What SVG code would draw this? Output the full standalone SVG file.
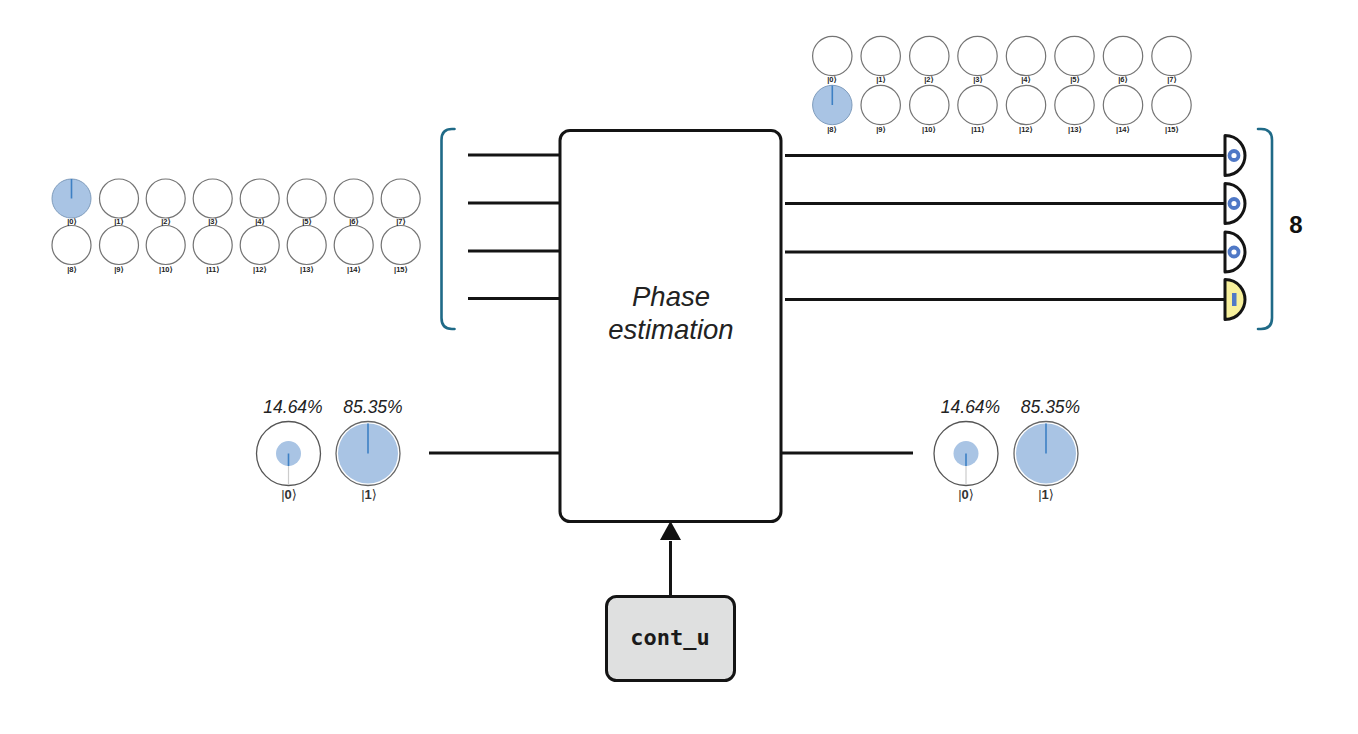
<svg xmlns="http://www.w3.org/2000/svg" width="1358" height="734" viewBox="0 0 1358 734">
<style>
.c{fill:#fff;stroke:#747474;stroke-width:1.2}
.s{fill:#a9c4e4;stroke:#7f9cbc;stroke-width:1}
.n{stroke:#3d80c4;stroke-width:1.6;fill:none}
.k{font:bold 7.5px "Liberation Sans","DejaVu Sans",sans-serif;fill:#222;text-anchor:middle}
.k2{font:13px "Liberation Sans","DejaVu Sans",sans-serif;fill:#333;text-anchor:middle}
.p{font:italic 17.500px "Liberation Sans",sans-serif;fill:#222;text-anchor:middle}
.w{stroke:#141414;stroke-width:3;fill:none;stroke-linecap:butt}
.b{stroke:#1f6a87;stroke-width:2.6;fill:none;stroke-linecap:round}
.m{stroke:#141414;stroke-width:3;stroke-linejoin:round}
.o{fill:none;stroke:#4f78c6;stroke-width:3.8}
</style>
<defs>
<path id="meter" d="M0,-20 C14,-20 20,-8 20,0 C20,8 14,20 0,20 Z"/>
</defs>
<g id="connectors">
<path class="w" d="M468,155H559M468,203H559M468,251H559M468,298.500H559"/>
<path class="w" d="M785,155.500H1225M785,203.500H1225M785,252H1225M785,299.500H1225"/>
<path class="w" d="M429,453H559M781,453H913"/>
<path class="w" d="M670.500,596V541"/>
<path d="M660,540 L670.500,521 L681,540 Z" fill="#111"/>
</g>
<g id="bracket-left"><path class="b" d="M454.500,129 H452 Q441.500,129 441.500,140 V318 Q441.500,329 452,329 H454.500"/></g>
<g id="bracket-right"><path class="b" d="M1258,129 H1261 Q1272,129 1272,140 V318 Q1272,329 1261,329 H1258"/></g>
<g id="phase-estimation">
<rect x="560" y="130.500" width="221" height="391" rx="10" fill="#fff" stroke="#141414" stroke-width="3"/>
<text x="671" y="306" font-family="Liberation Sans" font-style="italic" font-size="27.500" fill="#222" text-anchor="middle">Phase</text>
<text x="671" y="339" font-family="Liberation Sans" font-style="italic" font-size="27.500" fill="#222" text-anchor="middle">estimation</text>
</g>
<g id="cont-u">
<rect x="606.500" y="596.500" width="128" height="84" rx="10" fill="#dfe0e0" stroke="#141414" stroke-width="3"/>
<text x="670" y="645" font-family="DejaVu Sans Mono" font-weight="bold" font-size="22" fill="#1a1a1a" text-anchor="middle">cont_u</text>
</g>
<g id="meter-1"><use href="#meter" class="m" fill="#fff" x="1225" y="155.500"/><circle class="o" cx="1234" cy="155.500" r="4.500"/></g>
<g id="meter-2"><use href="#meter" class="m" fill="#fff" x="1225" y="203.500"/><circle class="o" cx="1234" cy="203.500" r="4.500"/></g>
<g id="meter-3"><use href="#meter" class="m" fill="#fff" x="1225" y="252"/><circle class="o" cx="1234" cy="252" r="4.500"/></g>
<g id="meter-4"><use href="#meter" class="m" fill="#f7f09c" x="1225" y="299.500"/><rect x="1232" y="293" width="4.500" height="13" fill="#4f78c6"/></g>
<g id="count"><text x="1296" y="233" font-family="Liberation Sans" font-weight="bold" font-size="24" fill="#111" text-anchor="middle">8</text></g>
<g id="register-in">
<circle class="s" cx="71.500" cy="198.500" r="19.500"/><path class="n" d="M71.500,179V198.500"/>
<circle class="c" cx="119" cy="198.500" r="19.500"/><circle class="c" cx="165.700" cy="198.500" r="19.500"/><circle class="c" cx="212.700" cy="198.500" r="19.500"/><circle class="c" cx="259.700" cy="198.500" r="19.500"/><circle class="c" cx="306.700" cy="198.500" r="19.500"/><circle class="c" cx="353.700" cy="198.500" r="19.500"/><circle class="c" cx="400.700" cy="198.500" r="19.500"/>
<circle class="c" cx="71.500" cy="245" r="19.500"/><circle class="c" cx="119" cy="245" r="19.500"/><circle class="c" cx="165.700" cy="245" r="19.500"/><circle class="c" cx="212.700" cy="245" r="19.500"/><circle class="c" cx="259.700" cy="245" r="19.500"/><circle class="c" cx="306.700" cy="245" r="19.500"/><circle class="c" cx="353.700" cy="245" r="19.500"/><circle class="c" cx="400.700" cy="245" r="19.500"/>
<g class="k">
<text x="72" y="223.500">|0⟩</text><text x="119" y="223.500">|1⟩</text><text x="166" y="223.500">|2⟩</text><text x="213" y="223.500">|3⟩</text><text x="260" y="223.500">|4⟩</text><text x="307" y="223.500">|5⟩</text><text x="354" y="223.500">|6⟩</text><text x="401" y="223.500">|7⟩</text>
<text x="72" y="272">|8⟩</text><text x="119" y="272">|9⟩</text><text x="166" y="272">|10⟩</text><text x="213" y="272">|11⟩</text><text x="260" y="272">|12⟩</text><text x="307" y="272">|13⟩</text><text x="354" y="272">|14⟩</text><text x="401" y="272">|15⟩</text>
</g>
</g>
<g id="register-out">
<circle class="c" cx="832.300" cy="56" r="19.700"/><circle class="c" cx="880.700" cy="56" r="19.700"/><circle class="c" cx="929.300" cy="56" r="19.700"/><circle class="c" cx="977.500" cy="56" r="19.700"/><circle class="c" cx="1026" cy="56" r="19.700"/><circle class="c" cx="1074.500" cy="56" r="19.700"/><circle class="c" cx="1123" cy="56" r="19.700"/><circle class="c" cx="1171.500" cy="56" r="19.700"/>
<circle class="s" cx="832.300" cy="105" r="19.700"/><path class="n" d="M832.300,85.500V105"/>
<circle class="c" cx="880.700" cy="105" r="19.700"/><circle class="c" cx="929.300" cy="105" r="19.700"/><circle class="c" cx="977.500" cy="105" r="19.700"/><circle class="c" cx="1026" cy="105" r="19.700"/><circle class="c" cx="1074.500" cy="105" r="19.700"/><circle class="c" cx="1123" cy="105" r="19.700"/><circle class="c" cx="1171.500" cy="105" r="19.700"/>
<g class="k">
<text x="832" y="82">|0⟩</text><text x="881" y="82">|1⟩</text><text x="929" y="82">|2⟩</text><text x="978" y="82">|3⟩</text><text x="1026" y="82">|4⟩</text><text x="1075" y="82">|5⟩</text><text x="1123" y="82">|6⟩</text><text x="1172" y="82">|7⟩</text>
<text x="832" y="132">|8⟩</text><text x="881" y="132">|9⟩</text><text x="929" y="132">|10⟩</text><text x="978" y="132">|11⟩</text><text x="1026" y="132">|12⟩</text><text x="1075" y="132">|13⟩</text><text x="1123" y="132">|14⟩</text><text x="1172" y="132">|15⟩</text>
</g>
</g>
<g id="ancilla-in">
<text class="p" x="293" y="413">14.64%</text><text class="p" x="373" y="413">85.35%</text>
<circle cx="288.500" cy="453.500" r="32" fill="#fff" stroke="#555" stroke-width="1.300"/>
<circle cx="288.500" cy="453.500" r="12.500" fill="#a9c4e4"/>
<path d="M288.500,466V485" stroke="#ccc" stroke-width="1.200"/>
<path class="n" d="M288.500,453.500V466"/>
<circle cx="368" cy="453.500" r="32" fill="#fff" stroke="#666" stroke-width="1.300"/>
<circle cx="368" cy="453.500" r="30" fill="#a9c4e4"/>
<path class="n" d="M368,423.500V453.500"/>
<text class="k2" x="289" y="499">|<tspan font-weight="bold">0</tspan>⟩</text><text class="k2" x="369" y="499">|<tspan font-weight="bold">1</tspan>⟩</text>
</g>
<g id="ancilla-out">
<text class="p" x="970.500" y="413">14.64%</text><text class="p" x="1050.500" y="413">85.35%</text>
<circle cx="966" cy="453.500" r="32" fill="#fff" stroke="#555" stroke-width="1.300"/>
<circle cx="966" cy="453.500" r="12.500" fill="#a9c4e4"/>
<path d="M966,466V485" stroke="#ccc" stroke-width="1.200"/>
<path class="n" d="M966,453.500V466"/>
<circle cx="1046" cy="453.500" r="32" fill="#fff" stroke="#666" stroke-width="1.300"/>
<circle cx="1046" cy="453.500" r="30" fill="#a9c4e4"/>
<path class="n" d="M1046,423.500V453.500"/>
<text class="k2" x="966" y="499">|<tspan font-weight="bold">0</tspan>⟩</text><text class="k2" x="1046" y="499">|<tspan font-weight="bold">1</tspan>⟩</text>
</g>
</svg>
